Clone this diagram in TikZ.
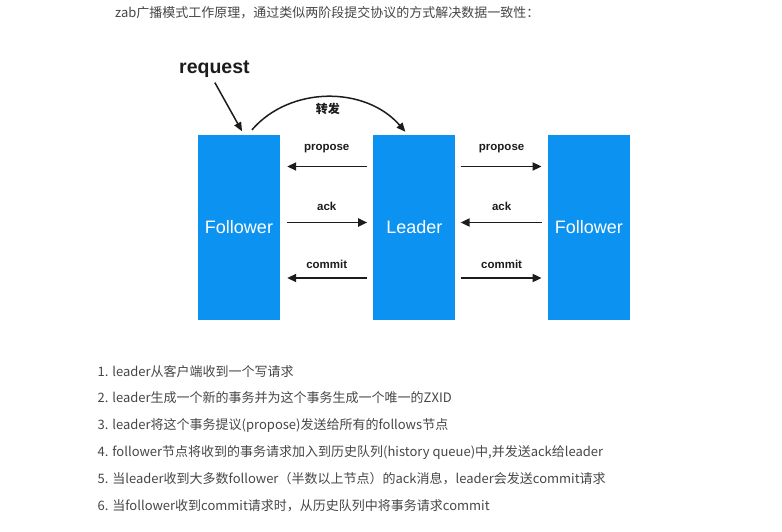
\documentclass[tikz,border=0pt]{standalone}
\usepackage{fontspec}
\setmainfont{Liberation Sans}
\newfontfamily\cjk{Noto Sans CJK SC}
\usepackage{xcolor}
\usetikzlibrary{arrows.meta, positioning}

\definecolor{boxblue}{RGB}{12,146,240}
\definecolor{inkgray}{RGB}{70,70,70}
\definecolor{arrowink}{RGB}{28,28,28}

\begin{document}
\begin{tikzpicture}[
    x=1pt, y=-1pt,
    every node/.style={inner sep=0pt},
    box/.style={fill=boxblue, minimum width=82pt, minimum height=185pt, text=white, font=\fontsize{18}{20}\selectfont},
    msg/.style={-{Triangle[length=9pt, width=8pt]}, line width=1.8pt, draw=arrowink, shorten <=6pt, shorten >=6pt},
    fwd/.style={-{Triangle[length=9pt, width=7.5pt]}, line width=1.5pt, draw=arrowink},
    lbl/.style={anchor=base, text=arrowink, font=\bfseries\fontsize{11.5}{13}\selectfont},
    item/.style={anchor=base west, text=inkgray, font=\cjk\fontsize{13}{15}\selectfont}
]
\useasboundingbox (0,0) rectangle (782,532);

% Heading
\node[item] (title) at (115,18) {zab广播模式工作原理，通过类似两阶段提交协议的方式解决数据一致性：};

% Three servers
\node[box] (fl) at (239,227.5) {Follower};
\node[box, right=93pt of fl] (ld) {Leader};
\node[box, right=92pt of ld] (fr) {Follower};

% Client request, forwarded to the leader
\node[anchor=base west, text=arrowink, font=\bfseries\fontsize{19.5}{22}\selectfont] (req) at (179,74) {request};
\draw[fwd, shorten <=5pt, shorten >=4pt] ([xshift=-2pt]req.south) -- ([xshift=5pt]fl.north);
\draw[fwd] ([xshift=13pt, yshift=5pt]fl.north) .. controls +(38,-44) and +(-40,-46) .. ([xshift=-9pt, yshift=3pt]ld.north)
    node[pos=0.5, yshift=-12pt, text=arrowink, font=\cjk\bfseries\fontsize{12}{14}\selectfont] {转发};

% Leader <-> left follower
\draw[msg, shorten >=7pt] ([yshift=61pt]ld.west) -- node[lbl, yshift=16.5pt] {propose} ([yshift=61pt]fl.east);
\draw[msg, shorten <=7pt] ([yshift=5pt]fl.east) -- node[lbl, yshift=12.5pt] {ack} ([yshift=5pt]ld.west);
\draw[msg, shorten >=7pt] ([yshift=-50.5pt]ld.west) -- node[lbl, yshift=9.5pt] {commit} ([yshift=-50.5pt]fl.east);

% Leader <-> right follower
\draw[msg, shorten <=5pt] ([yshift=61pt]ld.east) -- node[lbl, yshift=16.5pt] {propose} ([yshift=61pt]fr.west);
\draw[msg, shorten >=5pt] ([yshift=5pt]fr.west) -- node[lbl, yshift=12.5pt] {ack} ([yshift=5pt]ld.east);
\draw[msg, shorten <=5pt] ([yshift=-50.5pt]ld.east) -- node[lbl, yshift=9.5pt] {commit} ([yshift=-50.5pt]fr.west);

% Steps
\node[item] (s1) at (97.5,376) {1. leader从客户端收到一个写请求};
\node[item] (s2) at (97.5,402.5) {2. leader生成一个新的事务并为这个事务生成一个唯一的ZXID};
\node[item] (s3) at (97.5,429) {3. leader将这个事务提议(propose)发送给所有的follows节点};
\node[item] (s4) at (97.5,456) {4. follower节点将收到的事务请求加入到历史队列(history queue)中,并发送ack给leader};
\node[item] (s5) at (97.5,483) {5. 当leader收到大多数follower（半数以上节点）的ack消息，leader会发送commit请求};
\node[item] (s6) at (97.5,510) {6. 当follower收到commit请求时，从历史队列中将事务请求commit};

\end{tikzpicture}
\end{document}
